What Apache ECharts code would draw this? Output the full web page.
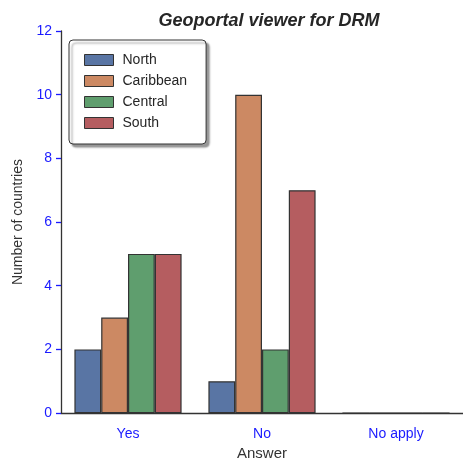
<!DOCTYPE html>
<html>
<head>
<meta charset="utf-8">
<script src="https://cdn.jsdelivr.net/npm/echarts@6/dist/echarts.min.js"></script>
<style>
  html, body { margin: 0; padding: 0; background: #fff; }
  #chart { width: 463px; height: 466px; }
</style>
</head>
<body>
<div id="chart"></div>
<script>
// data
const answers = ['Yes', 'No', 'No apply'];
const regions = ['North', 'Caribbean', 'Central', 'South'];
const north = [2, 1, 0];
const caribbean = [3, 10, 0];
const central = [5, 2, 0];
const south = [5, 7, 0];
const yTicks = [0, 2, 4, 6, 8, 10, 12];

const colors = ['#5975A4', '#CC8963', '#5F9E6E', '#B55D60'];
const values = [north, caribbean, central, south];

const chart = echarts.init(document.getElementById('chart'));

const option = {
    animation: false,
    color: colors,
    textStyle: { fontFamily: 'Arial, Liberation Sans, sans-serif' },
    title: {
        text: 'Geoportal viewer for DRM',
        left: 264,
        textAlign: 'center',
        top: 7,
        textStyle: { fontSize: 18, fontWeight: 'bold', fontStyle: 'italic', color: '#262626' }
    },
    grid: { left: 61, right: -2, top: 31, bottom: 48, containLabel: false },
    legend: {
        data: regions,
        orient: 'vertical',
        left: 69,
        top: 40,
        icon: 'rect',
        itemWidth: 29,
        itemHeight: 11,
        itemGap: 7,
        padding: [13, 19, 14, 15],
        backgroundColor: '#fff',
        borderColor: '#333',
        borderWidth: 1,
        borderRadius: 4,
        shadowColor: 'rgba(0,0,0,0.4)',
        shadowOffsetX: 3,
        shadowOffsetY: 3,
        shadowBlur: 2,
        itemStyle: { borderColor: '#333', borderWidth: 1 },
        textStyle: { fontSize: 14, color: '#262626', padding: [0, 0, 0, 4] }
    },
    xAxis: {
        type: 'category',
        data: answers,
        name: 'Answer',
        nameLocation: 'middle',
        nameGap: 32,
        nameTextStyle: { fontSize: 15, color: '#333' },
        axisLine: { lineStyle: { color: '#333', width: 1.3 } },
        axisTick: { alignWithLabel: true, length: 5, lineStyle: { color: '#1a1aff', width: 1.3 } },
        axisLabel: { color: '#1a1aff', fontSize: 14, margin: 14 }
    },
    yAxis: {
        type: 'value',
        min: yTicks[0],
        max: yTicks[yTicks.length - 1],
        interval: 2,
        name: 'Number of countries',
        nameLocation: 'middle',
        nameGap: 35,
        nameTextStyle: { fontSize: 14, color: '#333' },
        splitLine: { show: false },
        axisLine: { show: true, lineStyle: { color: '#333', width: 1.3 } },
        axisTick: { show: true, length: 5, lineStyle: { color: '#1a1aff', width: 1.3 } },
        axisLabel: { color: '#1a1aff', fontSize: 14, margin: 9 }
    },
    series: regions.map(function (name, i) {
        return {
            name: name,
            type: 'bar',
            data: values[i],
            barGap: '0%',
            barCategoryGap: '20%',
            itemStyle: { borderColor: '#333', borderWidth: 1.2 }
        };
    })
};

chart.setOption(option);
</script>
</body>
</html>
